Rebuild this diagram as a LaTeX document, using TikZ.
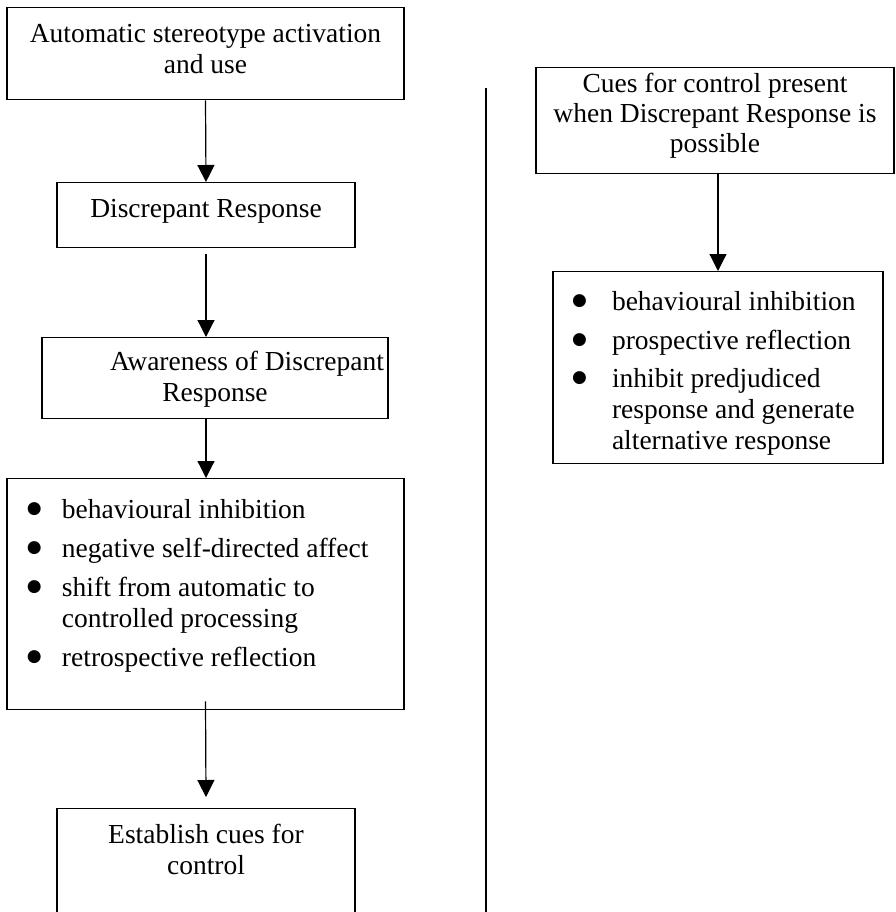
\documentclass[tikz,border=0pt]{standalone}
\usepackage{fontspec}
\setmainfont{Liberation Serif}
\newfontfamily\dejavu{DejaVu Sans}
\newcommand{\bulletdot}{\raisebox{5pt}{\dejavu\fontsize{17}{17}\selectfont ●}}
\usetikzlibrary{arrows.meta}

\begin{document}
\begin{tikzpicture}[x=1pt, y=-1pt,
    every node/.style={font=\fontsize{27.5}{31}\selectfont, inner sep=0pt},
    box/.style={draw, line width=1.4pt, anchor=north},
    flow/.style={-{Triangle[width=17pt,length=17pt]}, line width=1.2pt}]
    \useasboundingbox (0,0) rectangle (895,912);
    \clip (0,0) rectangle (895,912);

    % left column
    \node[box, minimum width=397pt, text height=35pt, text depth=57pt] (auto) at (205.5,7)
        {\begin{tabular}[t]{@{}c@{}}Automatic stereotype activation\\and use\end{tabular}};
    \node[box, minimum width=298pt, text height=35pt, text depth=30pt] (disc) at (206,182)
        {\begin{tabular}[t]{@{}c@{}}Discrepant Response\end{tabular}};
    \node[box, minimum width=346pt, text height=33pt, text depth=48pt] (aware) at (215,337)
        {\begin{tabular}[t]{@{}c@{}}\hspace*{64pt}Awareness of Discrepant\\Response\end{tabular}};
    \node[box, inner xsep=20pt, text height=40pt, text depth=191pt] (inhib) at (205.5,478)
        {\begin{tabular}[t]{@{}p{35pt}@{}p{322pt}@{}}
        \bulletdot & behavioural inhibition\\[8pt]
        \bulletdot & negative self-directed affect\\[8pt]
        \bulletdot & shift from automatic to\newline controlled processing\\[8pt]
        \bulletdot & retrospective reflection
        \end{tabular}};
    \node[box, minimum width=298pt, text height=35pt, text depth=110pt] (estab) at (206,808)
        {\begin{tabular}[t]{@{}c@{}}Establish cues for\\control\end{tabular}};

    % right column
    \node[box, minimum width=358pt, text height=25pt, text depth=81pt] (cues) at (715,67)
        {\begin{tabular}[t]{@{}c@{}}Cues for control present\\[-1pt]when Discrepant Response is\\[-1pt]possible\end{tabular}};
    \node[box, inner xsep=19pt, text height=39pt, text depth=153pt] (prosp) at (718,271)
        {\begin{tabular}[t]{@{}p{40pt}@{}p{252pt}@{}}
        \bulletdot & behavioural inhibition\\[7.5pt]
        \bulletdot & prospective reflection\\[7.5pt]
        \bulletdot & inhibit predjudiced\newline response and generate\newline alternative response
        \end{tabular}};

    \coordinate (divtop) at (486,88);
    \coordinate (divbot) at (486,912);
    \draw[line width=1.4pt] (divtop) -- (divbot);

    \draw[flow] (auto.south) -- (disc.north);
    \draw[flow] ([yshift=-6pt]disc.south) -- (disc.south |- aware.north);
    \draw[flow] (aware.south -| disc.south) -- (disc.south |- inhib.north);
    \draw[flow] ([yshift=9pt]inhib.south) -- ([yshift=11pt]estab.north);
    \draw[flow] (cues.south -| prosp.north) -- (prosp.north);
\end{tikzpicture}
\end{document}
